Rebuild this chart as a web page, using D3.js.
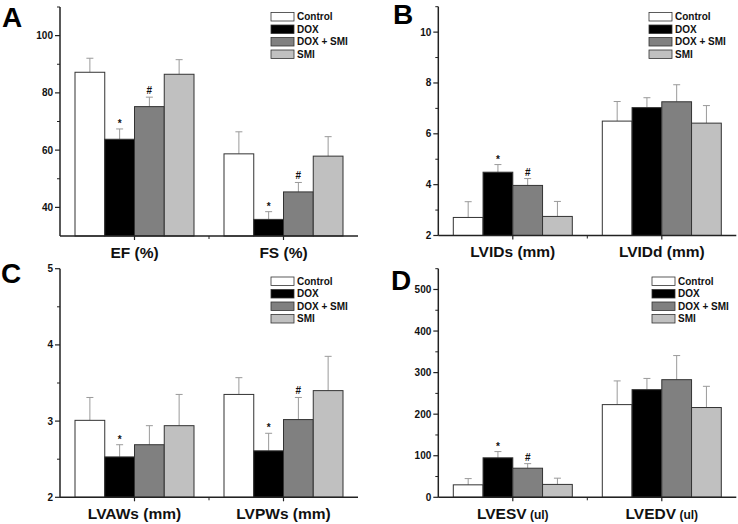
<!DOCTYPE html>
<html>
<head>
<meta charset="utf-8">
<script src="https://cdn.jsdelivr.net/npm/d3@7"></script>
<style>
  body { margin: 0; background: #fff; }
  text { font-family: "Liberation Sans", Arial, sans-serif; font-weight: bold; }
</style>
</head>
<body>
<script>
const width = 738;
const height = 524;

const groups = ["Control", "DOX", "DOX + SMI", "SMI"];
const colors = ["#ffffff", "#000000", "#808080", "#c0c0c0"];

// means and SD (upper error)
const efMean = [87.2, 63.8, 75.2, 86.5], efSD = [4.9, 3.6, 3.3, 5.1];
const fsMean = [58.7, 35.8, 45.4, 57.9], fsSD = [7.7, 2.7, 3.3, 6.8];
const lvidsMean = [2.71, 4.49, 3.97, 2.75], lvidsSD = [0.62, 0.30, 0.27, 0.59];
const lviddMean = [6.50, 7.03, 7.26, 6.42], lviddSD = [0.77, 0.39, 0.67, 0.69];
const lvawsMean = [3.01, 2.53, 2.69, 2.94], lvawsSD = [0.30, 0.16, 0.25, 0.41];
const lvpwsMean = [3.35, 2.61, 3.02, 3.40], lvpwsSD = [0.22, 0.23, 0.29, 0.45];
const lvesvMean = [30, 95, 70, 31], lvesvSD = [15, 15, 11, 15];
const lvedvMean = [223, 259, 283, 216], lvedvSD = [57, 27, 58, 51];

const marksBoth = ["", "*", "#", ""];
const marksStar = ["", "*", "", ""];
const marksNone = ["", "", "", ""];

const ticksA = [40, 60, 80, 100], minorA = [50, 70, 90, 110];
const ticksB = [2, 4, 6, 8, 10], minorB = [3, 5, 7, 9, 11];
const ticksC = [2, 3, 4, 5], minorC = [2.5, 3.5, 4.5];
const ticksD = [0, 100, 200, 300, 400, 500], minorD = [50, 150, 250, 350, 450, 550];

const panels = [
  { letter: "A", lx: 2, ly: 27, x0: 60, x1: 358, yTop: 7, yBot: 236, domain: [30, 110],
    ticks: ticksA, minor: minorA, legend: [271, 12.5],
    measures: [
      { name: "EF (%)", mean: efMean, sd: efSD, marks: marksBoth },
      { name: "FS (%)", mean: fsMean, sd: fsSD, marks: marksBoth }] },
  { letter: "B", lx: 393, ly: 24, x0: 438.3, x1: 736.3, yTop: 6.7, yBot: 235.5, domain: [2, 11],
    ticks: ticksB, minor: minorB, legend: [649, 12.5],
    measures: [
      { name: "LVIDs (mm)", mean: lvidsMean, sd: lvidsSD, marks: marksBoth },
      { name: "LVIDd (mm)", mean: lviddMean, sd: lviddSD, marks: marksNone }] },
  { letter: "C", lx: 1, ly: 283, x0: 60, x1: 358, yTop: 268.7, yBot: 497.3, domain: [2, 5],
    ticks: ticksC, minor: minorC, legend: [271, 277],
    measures: [
      { name: "LVAWs (mm)", mean: lvawsMean, sd: lvawsSD, marks: marksStar },
      { name: "LVPWs (mm)", mean: lvpwsMean, sd: lvpwsSD, marks: marksBoth }] },
  { letter: "D", lx: 391, ly: 290, x0: 438.3, x1: 736.3, yTop: 268.7, yBot: 497.3, domain: [0, 550],
    ticks: ticksD, minor: minorD, legend: [652, 277], unit: true,
    measures: [
      { name: "LVESV", mean: lvesvMean, sd: lvesvSD, marks: marksBoth },
      { name: "LVEDV", mean: lvedvMean, sd: lvedvSD, marks: marksNone }] }
];

const svg = d3.select("body")
  .append("svg")
  .attr("width", width)
  .attr("height", height);

const axisColor = "#222";

panels.forEach(p => {
  const g = svg.append("g");

  const y = d3.scaleLinear().domain(p.domain).range([p.yBot, p.yTop]);
  const x0 = d3.scaleBand().domain(p.measures.map(m => m.name)).range([p.x0, p.x1]);
  const pad = 15;
  const x1 = d3.scaleBand().domain(groups).range([pad, x0.bandwidth() - pad]);

  // bars
  p.measures.forEach(m => {
    const mg = g.append("g").attr("transform", `translate(${x0(m.name)},0)`);
    const rows = groups.map((k, i) => ({ k, i, mean: m.mean[i], sd: m.sd[i], mark: m.marks[i] }));

    mg.selectAll("line.err")
      .data(rows)
      .join("line")
      .attr("x1", d => x1(d.k) + x1.bandwidth() / 2)
      .attr("x2", d => x1(d.k) + x1.bandwidth() / 2)
      .attr("y1", d => y(d.mean))
      .attr("y2", d => y(d.mean + d.sd))
      .attr("stroke", "#9a9a9a");

    mg.selectAll("line.cap")
      .data(rows)
      .join("line")
      .attr("x1", d => x1(d.k) + x1.bandwidth() / 2 - 3.5)
      .attr("x2", d => x1(d.k) + x1.bandwidth() / 2 + 3.5)
      .attr("y1", d => y(d.mean + d.sd))
      .attr("y2", d => y(d.mean + d.sd))
      .attr("stroke", "#9a9a9a");

    mg.selectAll("rect")
      .data(rows)
      .join("rect")
      .attr("x", d => x1(d.k))
      .attr("width", x1.bandwidth())
      .attr("y", d => y(d.mean))
      .attr("height", d => p.yBot - y(d.mean))
      .attr("fill", d => colors[d.i])
      .attr("stroke", "#333")
      .attr("stroke-width", 1);

    mg.selectAll("text.mark")
      .data(rows.filter(d => d.mark))
      .join("text")
      .attr("x", d => x1(d.k) + x1.bandwidth() / 2)
      .attr("y", d => y(d.mean + d.sd) - (d.mark === "*" ? 2 : 3))
      .attr("text-anchor", "middle")
      .attr("font-size", 10)
      .attr("fill", "#111")
      .text(d => d.mark);
  });

  // y axis
  g.append("line")
    .attr("x1", p.x0).attr("x2", p.x0)
    .attr("y1", p.yTop).attr("y2", p.yBot)
    .attr("stroke", axisColor).attr("stroke-width", 1.5);

  g.selectAll("line.ymaj")
    .data(p.ticks)
    .join("line")
    .attr("x1", p.x0 - 5).attr("x2", p.x0)
    .attr("y1", d => y(d)).attr("y2", d => y(d))
    .attr("stroke", axisColor).attr("stroke-width", 1.2);

  g.selectAll("line.ymin")
    .data(p.minor)
    .join("line")
    .attr("x1", p.x0 - 3).attr("x2", p.x0)
    .attr("y1", d => y(d)).attr("y2", d => y(d))
    .attr("stroke", axisColor).attr("stroke-width", 1);

  g.selectAll("text.ytick")
    .data(p.ticks)
    .join("text")
    .attr("x", p.x0 - 7)
    .attr("y", d => y(d))
    .attr("dy", "0.35em")
    .attr("text-anchor", "end")
    .attr("font-size", 10)
    .attr("fill", "#111")
    .text(d => d);

  // x axis
  g.append("line")
    .attr("x1", p.x0).attr("x2", p.x1)
    .attr("y1", p.yBot).attr("y2", p.yBot)
    .attr("stroke", axisColor).attr("stroke-width", 1.5);

  g.selectAll("line.xmaj")
    .data(p.measures)
    .join("line")
    .attr("x1", d => x0(d.name) + x0.bandwidth() / 2)
    .attr("x2", d => x0(d.name) + x0.bandwidth() / 2)
    .attr("y1", p.yBot).attr("y2", p.yBot + 4)
    .attr("stroke", axisColor).attr("stroke-width", 1.2);

  g.append("line")
    .attr("x1", x0(p.measures[1].name)).attr("x2", x0(p.measures[1].name))
    .attr("y1", p.yBot).attr("y2", p.yBot + 3)
    .attr("stroke", axisColor);

  const xl = g.selectAll("text.xlab")
    .data(p.measures)
    .join("text")
    .attr("x", d => x0(d.name) + x0.bandwidth() / 2)
    .attr("y", p.yBot + 21.5)
    .attr("text-anchor", "middle")
    .attr("font-size", 15.5)
    .attr("fill", "#111");
  if (p.unit) {
    xl.append("tspan").text(d => d.name);
    xl.append("tspan").attr("font-size", 12).text(" (ul)");
  } else {
    xl.text(d => d.name);
  }

  // legend
  const lg = g.append("g").attr("transform", `translate(${p.legend[0]},${p.legend[1]})`);
  groups.forEach((k, i) => {
    lg.append("rect")
      .attr("x", 0).attr("y", i * 12.5)
      .attr("width", 23).attr("height", 8.5)
      .attr("fill", colors[i])
      .attr("stroke", "#333").attr("stroke-width", 0.8);
    lg.append("text")
      .attr("x", 26).attr("y", i * 12.5 + 4.3)
      .attr("dy", "0.35em")
      .attr("font-size", 10)
      .attr("fill", "#111")
      .text(k);
  });

  // panel letter
  g.append("text")
    .attr("x", p.lx).attr("y", p.ly)
    .attr("font-size", 28)
    .attr("fill", "#000")
    .text(p.letter);
});
</script>
</body>
</html>
